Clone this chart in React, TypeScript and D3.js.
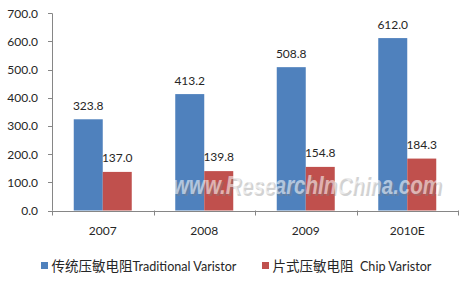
import React from "react";
import * as d3 from "d3";

const categories = ["2007", "2008", "2009", "2010E"];
const traditional = [323.8, 413.2, 508.8, 612.0];
const chip = [137.0, 139.8, 154.8, 184.3];
const yTicks = [0, 100, 200, 300, 400, 500, 600, 700];
const seriesCn = ["传统压敏电阻", "片式压敏电阻"];
const seriesEn = ["Traditional Varistor", "  Chip Varistor"];
const seriesColors = ["#4F81BD", "#C0504D"];

const W = 470, H = 281;
const FONT = "Lato, 'Noto Sans CJK SC', sans-serif";

export default function App() {
  const x0 = 52, x1 = 458;
  const y = d3.scaleLinear().domain([0, 700]).range([210.5, 13.3]);
  const x = d3.scaleBand<string>().domain(categories).range([x0, x1]).paddingInner(0.4286).paddingOuter(0.2143);
  const xs = d3.scaleBand<string>().domain(["a", "b"]).range([0, x.bandwidth()]);
  const series = [traditional, chip];
  const step = x.step();
  const boundaries = d3.range(categories.length + 1).map((i) => x0 + i * step);
  const legendX = [41, 262];

  return (
    <svg width={W} height={H} style={{ position: "absolute", left: 0, top: 0, background: "#fff" }} fontFamily={FONT}>
      <rect x={0} y={0} width={W} height={H} fill="#fff" />
      {/* y axis */}
      <line x1={x0 + 0.5} x2={x0 + 0.5} y1={y(700)} y2={y(0)} stroke="#868686" />
      {yTicks.map((t) => (
        <g key={t}>
          <line x1={x0 - 4} x2={x0} y1={Math.round(y(t)) + 0.5} y2={Math.round(y(t)) + 0.5} stroke="#868686" />
          <text x={38} y={y(t) + 4.5} textAnchor="end" fontSize={12} fill="#262626">{t.toFixed(1)}</text>
        </g>
      ))}
      {/* bars */}
      {series.map((vals, si) =>
        vals.map((v, i) => {
          const bx = (x(categories[i]) as number) + (xs(si === 0 ? "a" : "b") as number);
          const bw = xs.bandwidth();
          return (
            <g key={`${si}-${i}`}>
              <rect x={bx} y={y(v)} width={bw} height={y(0) - y(v)} fill={seriesColors[si]} />
              <text x={bx + bw / 2} y={y(v) - (si === 0 ? 9 : 10)} textAnchor="middle" fontSize={12} fill="#262626">{v.toFixed(1)}</text>
            </g>
          );
        })
      )}
      {/* x axis */}
      <line x1={x0} x2={x1} y1={Math.round(y(0)) + 0.5} y2={Math.round(y(0)) + 0.5} stroke="#868686" />
      {boundaries.map((b, i) => (
        <line key={i} x1={Math.round(b) + 0.5} x2={Math.round(b) + 0.5} y1={y(0)} y2={y(0) + 5} stroke="#868686" />
      ))}
      {categories.map((c) => (
        <text key={c} x={(x(c) as number) + x.bandwidth() / 2} y={235} textAnchor="middle" fontSize={12} fill="#262626">{c}</text>
      ))}
      {/* watermark */}
      <g fontStyle="italic" fontWeight="bold" fontSize={26} fontFamily="'Liberation Sans', Arial, sans-serif">
        <text x={175} y={196} textLength={268} lengthAdjust="spacingAndGlyphs" fill="#808080" opacity={0.35}>www.ResearchInChina.com</text>
        <text x={173} y={194} textLength={268} lengthAdjust="spacingAndGlyphs" fill="#ffffff" opacity={0.55}>www.ResearchInChina.com</text>
      </g>
      {/* legend */}
      {seriesCn.map((cn, i) => (
        <g key={cn}>
          <rect x={legendX[i]} y={262} width={7} height={7} fill={seriesColors[i]} />
          <text x={legendX[i] + 10.5} y={270.5} fill="#262626" style={{ whiteSpace: "pre" }}>
            <tspan fontSize={13.5}>{cn}</tspan>
            <tspan fontSize={12.6}>{seriesEn[i]}</tspan>
          </text>
        </g>
      ))}
    </svg>
  );
}
